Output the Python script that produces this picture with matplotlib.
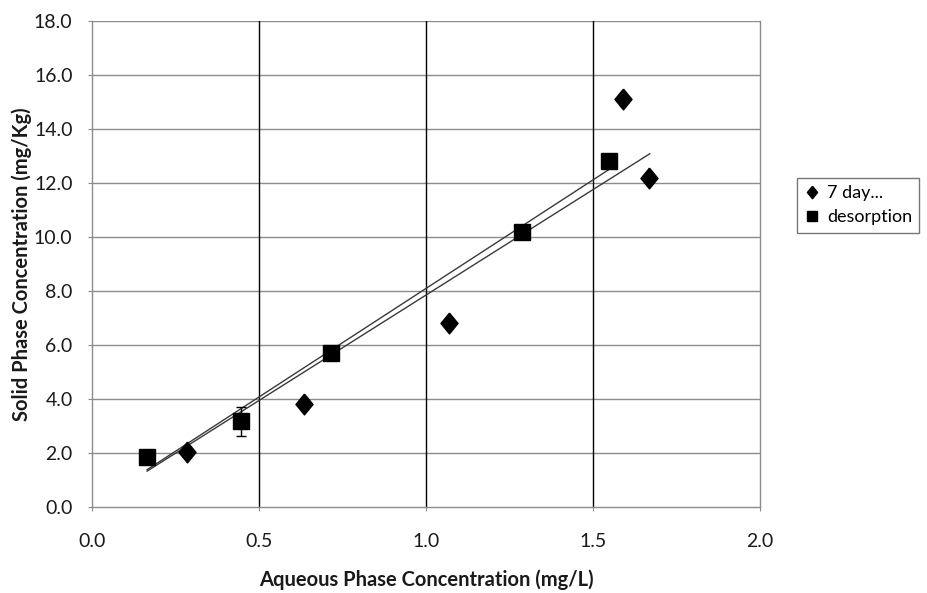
import numpy as np
import matplotlib
matplotlib.use("Agg")
import matplotlib.pyplot as plt
from matplotlib.lines import Line2D

plt.rcParams['font.family'] = ['Lato', 'DejaVu Sans']

# 7 day series (diamonds)
day7_x = [0.285, 0.635, 1.07, 1.59, 1.667]
day7_y = [2.05, 3.8, 6.8, 15.1, 12.2]

# desorption series (squares)
des_x = [0.165, 0.445, 0.715, 1.287, 1.548]
des_y = [1.85, 3.17, 5.7, 10.2, 12.8]
des_err = [0.0, 0.55, 0.0, 0.0, 0.0]

# second trendline (fit parameters) and its x-range
trend2_slope = 7.81
trend2_intercept = 0.04
trend2_xrange = [0.165, 1.67]

x_ticks = [0.0, 0.5, 1.0, 1.5, 2.0]
y_ticks = [0, 2, 4, 6, 8, 10, 12, 14, 16, 18]
legend_labels = ['7 day...', 'desorption']

fig = plt.figure(figsize=(9.28, 5.93), dpi=100)
L, R, T, B = 92, 760, 21, 507
ax = fig.add_axes([L/928, 1-B/593, (R-L)/928, (B-T)/593])

ax.set_xlim(0, 2.0)
ax.set_ylim(0, 18)
ax.set_xticks(x_ticks)
ax.set_yticks(y_ticks)
ax.set_xticklabels([f"{v:.1f}" for v in x_ticks])
ax.set_yticklabels([f"{v:.1f}" for v in y_ticks])

# grid
for y in y_ticks[1:]:
    ax.axhline(y, color='#8c8c8c', lw=1.0, zorder=1)
for x in x_ticks[1:-1]:
    ax.axvline(x, color='black', lw=1.0, zorder=1)

for side in ['left', 'bottom', 'right', 'top']:
    ax.spines[side].set_color('#8c8c8c')
    ax.spines[side].set_linewidth(1.0)
ax.spines['top'].set_visible(False)

ax.tick_params(axis='both', length=3, color='#8c8c8c', labelsize=14,
               labelcolor='#1a1a1a')
ax.tick_params(axis='x', pad=16)
ax.tick_params(axis='y', pad=11)

# trendlines
coef = np.polyfit(des_x, des_y, 1)
xs = np.array([min(des_x), max(des_x)])
ax.plot(xs, np.polyval(coef, xs), color='#3a3a3a', lw=1.0, zorder=2)
xs2 = np.array(trend2_xrange)
ax.plot(xs2, trend2_slope * xs2 + trend2_intercept, color='#3a3a3a', lw=1.0, zorder=2)

diamond = [(0, 1), (0.82, 0), (0, -1), (-0.82, 0), (0, 1)]
ax.plot(day7_x, day7_y, linestyle='none', marker=diamond, markersize=15,
        color='black', zorder=4)
ax.errorbar(des_x, des_y, yerr=des_err, fmt='s', markersize=12, color='black',
            ecolor='black', elinewidth=1.0, capsize=3.3, capthick=1.0, zorder=4)

ax.set_xlabel('Aqueous Phase Concentration (mg/L)', fontsize=14.5,
              fontweight='bold', color='#1a1a1a', va='center')
ax.set_ylabel('Solid Phase Concentration (mg/Kg)', fontsize=14.5,
              fontweight='bold', color='#1a1a1a', va='center')
ax.xaxis.set_label_coords(0.5, (B-580)/(B-T))
ax.yaxis.set_label_coords((22-L)/(R-L), 0.5)

handles = [Line2D([], [], linestyle='none', marker=diamond, markersize=9, color='black'),
           Line2D([], [], linestyle='none', marker='s', markersize=7, color='black')]
leg = fig.legend(handles, legend_labels, loc='upper left',
                 bbox_to_anchor=(797/928, 1-178/593),
                 fontsize=13, frameon=True, fancybox=False, edgecolor='#555555',
                 handlelength=0.9, handletextpad=0.35, borderpad=0.4,
                 labelspacing=0.45, borderaxespad=0)
leg.get_frame().set_linewidth(1.0)

fig.savefig('out.png', dpi=100)
